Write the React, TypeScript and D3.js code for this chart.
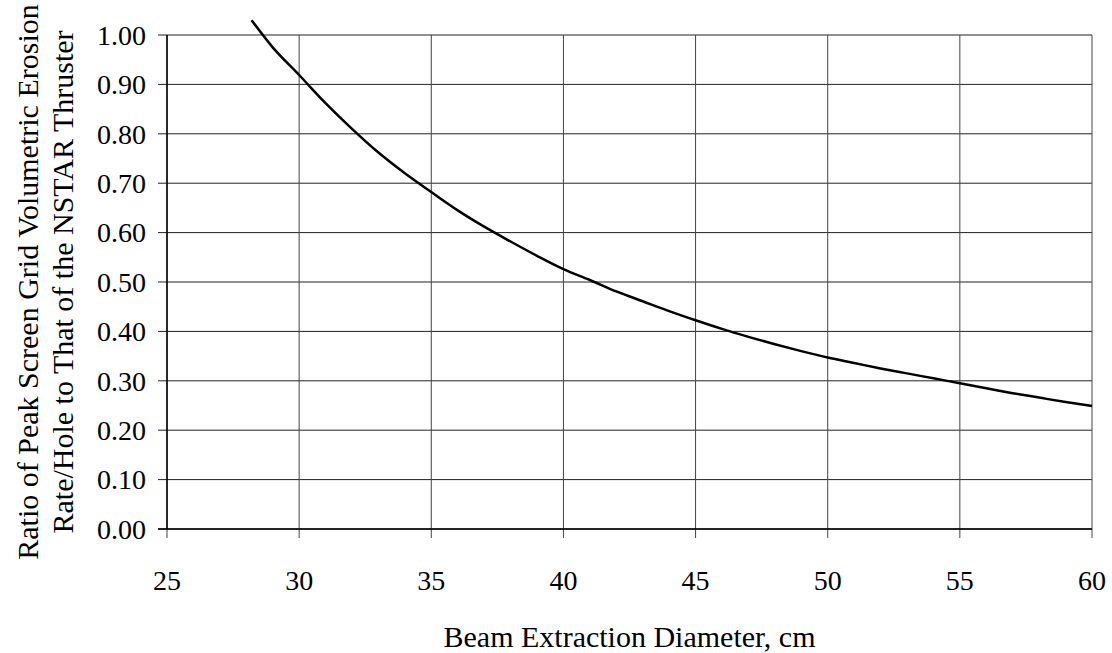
import React from "react";
import * as d3 from "d3";

const diameters = [28.2, 29, 30, 31, 32, 33, 34, 35, 36, 37, 38, 39, 40, 41, 42, 43, 44, 45, 46, 47, 48, 49, 50, 51, 52, 53, 54, 55, 56, 57, 58, 59, 60];
const ratios = [1.03, 0.975, 0.919, 0.862, 0.81, 0.762, 0.72, 0.682, 0.645, 0.612, 0.582, 0.553, 0.526, 0.504, 0.481, 0.461, 0.441, 0.4225, 0.405, 0.389, 0.374, 0.36, 0.347, 0.336, 0.325, 0.315, 0.305, 0.295, 0.285, 0.275, 0.266, 0.257, 0.249];
const xTicks = [25, 30, 35, 40, 45, 50, 55, 60];
const yTicks = [0, 0.1, 0.2, 0.3, 0.4, 0.5, 0.6, 0.7, 0.8, 0.9, 1.0];
const yTitle1 = "Ratio of Peak Screen Grid Volumetric Erosion";
const yTitle2 = "Rate/Hole to That of the NSTAR Thruster";
const xTitle = "Beam Extraction Diameter, cm";

export default function App() {
  const W = 1112, H = 653;
  const left = 167, right = 1092, top = 35, bottom = 529;
  const x = d3.scaleLinear().domain([25, 60]).range([left, right]);
  const y = d3.scaleLinear().domain([0, 1]).range([bottom, top]);
  const pts = diameters.map((d, i) => [d, ratios[i]] as [number, number]);
  const line = d3.line<[number, number]>().x(d => x(d[0])).y(d => y(d[1])).curve(d3.curveMonotoneX);
  const font = "'Liberation Serif', 'Times New Roman', serif";
  const cy = (top + bottom) / 2;
  return (
    <svg width={W} height={H} style={{ position: "absolute", left: 0, top: 0 }} fontFamily={font}>
      <rect x={0} y={0} width={W} height={H} fill="#fff" />
      {yTicks.map(t => (
        <g key={"y" + t}>
          <line x1={left - 9} x2={right} y1={y(t)} y2={y(t)} stroke="#222" strokeWidth={1} />
          <text x={146} y={y(t)} dy="0.35em" textAnchor="end" fontSize={28}>{t.toFixed(2)}</text>
        </g>
      ))}
      {xTicks.map(t => (
        <g key={"x" + t}>
          <line x1={x(t)} x2={x(t)} y1={top} y2={bottom + 9} stroke="#444" strokeWidth={1} />
          <text x={x(t)} y={590} textAnchor="middle" fontSize={28}>{t}</text>
        </g>
      ))}
      <line x1={left} x2={left} y1={top} y2={bottom} stroke="#000" strokeWidth={1.5} />
      <line x1={left - 9} x2={right} y1={bottom} y2={bottom} stroke="#000" strokeWidth={1.5} />
      <path d={line(pts) || ""} fill="none" stroke="#000" strokeWidth={2.5} />
      <text x={(left + right) / 2} y={647} textAnchor="middle" fontSize={30}>{xTitle}</text>
      <g transform={`translate(27, ${cy}) rotate(-90)`}>
        <text x={0} y={0} dy="0.35em" textAnchor="middle" fontSize={30}>{yTitle1}</text>
      </g>
      <g transform={`translate(62, ${cy}) rotate(-90)`}>
        <text x={0} y={0} dy="0.35em" textAnchor="middle" fontSize={30}>{yTitle2}</text>
      </g>
    </svg>
  );
}
